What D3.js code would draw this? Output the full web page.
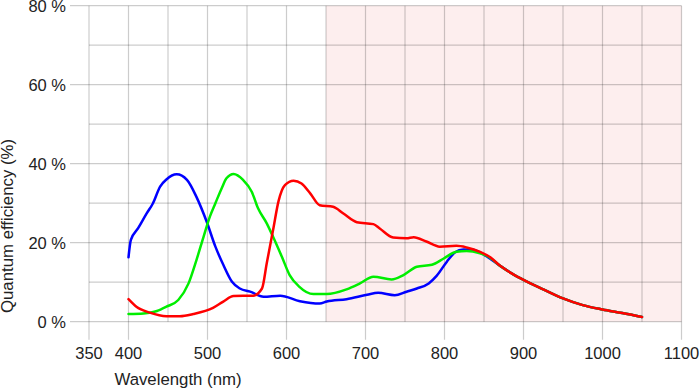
<!DOCTYPE html>
<html><head><meta charset="utf-8">
<script src="https://cdn.jsdelivr.net/npm/d3@7"></script>
<style>body{margin:0;background:#fff;} text{font-family:"Liberation Sans",Arial,sans-serif;fill:#222;}</style>
</head><body><svg id="c" width="700" height="392"></svg>
<script>
// Data (wavelength nm, quantum efficiency %)
const blueNm = [400,403,412,423,431,440,448,461,474,486,499,510,520,531,541,554,571,592,617,642,651,676,702,716,737,752,765,780,790,803,813,824,836,853,870,887,900,925,950,975,1000,1025,1050];
const blueQE = [16.3,20.7,23.6,27.4,30,34.2,36,37.3,35.9,31.6,25.3,19,14.4,10.1,8.4,7.6,6.3,6.6,5.2,4.6,5.1,5.7,6.8,7.3,6.7,7.6,8.4,9.7,11.6,15.2,17.5,18.3,18.2,16.6,14.2,12,10.6,8.2,5.9,4.2,3.1,2.2,1.2];
const greenNm = [400,419,436,448,463,476,486,495,503,510,518,524,533,545,556,564,575,583,594,604,616,634,651,676,693,710,733,748,765,784,799,815,828,845,855,870,887,900,925,950,975,1000,1025,1050];
const greenQE = [1.95,2.1,2.7,3.8,5.5,9.7,15.6,21.5,26.6,30,33.8,36.3,37.4,35.9,32.9,28.7,24.9,21.5,16.5,11.8,8.9,7,7,8.2,9.7,11.4,10.7,11.8,13.9,14.4,16,17.7,17.9,17.3,16.5,14.2,12,10.6,8.2,5.9,4.2,3.1,2.2,1.2];
const redNm = [400,410,427,448,465,482,507,520,533,558,569,575,583,590,598,609,619,630,642,659,672,689,710,718,735,752,761,777,794,815,828,845,858,870,887,900,925,950,975,1000,1025,1050];
const redQE = [5.7,3.8,2.3,1.4,1.4,1.95,3.5,5.1,6.5,6.6,8.4,14.8,23.2,30.6,34.6,35.7,35,32.5,29.5,29.1,27.4,25.2,24.7,23.6,21.3,21.1,21.4,20.3,19,19.2,18.8,17.7,16.3,14.2,12,10.6,8.2,5.9,4.2,3.1,2.2,1.2];
const xTicks = [350,400,500,600,700,800,900,1000,1100];
const yTicks = [0,20,40,60,80];
const shadeRange = [650,1100];

const svg = d3.select("#c");
const x = d3.scaleLinear().domain([350,1100]).range([89,681.5]);
const y = d3.scaleLinear().domain([0,80]).range([321.7,5.7]);

// shaded region
svg.append("rect").attr("x",x(shadeRange[0])).attr("y",y(80))
  .attr("width",x(shadeRange[1])-x(shadeRange[0])).attr("height",y(0)-y(80))
  .attr("fill","#fdeeee");

const g = svg.append("g").attr("stroke","rgba(0,0,0,0.2)").attr("stroke-width",1.2).attr("fill","none");
// vertical grid every 50
d3.range(350,1101,50).forEach(v=>{
  const ext = xTicks.includes(v) ? 18 : 0;
  g.append("line").attr("x1",x(v)).attr("x2",x(v)).attr("y1",y(80)).attr("y2",y(0)+ext);
});
d3.range(0,81,10).forEach(v=>{
  const ext = yTicks.includes(v) ? 19 : 0;
  g.append("line").attr("y1",y(v)).attr("y2",y(v)).attr("x1",x(350)-ext).attr("x2",x(1100));
});

// tick labels
svg.selectAll(".xl").data(xTicks).enter().append("text")
  .attr("x",d=>x(d)).attr("y",359).attr("text-anchor","middle").attr("font-size",16.5).text(d=>d);
svg.selectAll(".yl").data(yTicks).enter().append("text")
  .attr("x",66).attr("y",d=>y(d)+6).attr("text-anchor","end").attr("font-size",16.5).text(d=>d+" %");

svg.append("text").attr("x",178).attr("y",385).attr("text-anchor","middle").attr("font-size",16.8).text("Wavelength (nm)");
svg.append("text").attr("transform","translate(13,226) rotate(-90)").attr("text-anchor","middle").attr("font-size",16.8).text("Quantum efficiency (%)");

const line = d3.line().x(d=>x(d[0])).y(d=>y(d[1])).curve(d3.curveMonotoneX);
const series = [
  {nm:blueNm, qe:blueQE, color:"#0000ff"},
  {nm:greenNm, qe:greenQE, color:"#00ee00"},
  {nm:redNm, qe:redQE, color:"#ff0000"}
];
series.forEach(s=>{
  svg.append("path").datum(s.nm.map((n,i)=>[n,s.qe[i]]))
    .attr("d",line).attr("fill","none").attr("stroke",s.color).attr("stroke-width",2.5)
    .attr("stroke-linejoin","round").attr("stroke-linecap","round");
});
</script></body></html>
